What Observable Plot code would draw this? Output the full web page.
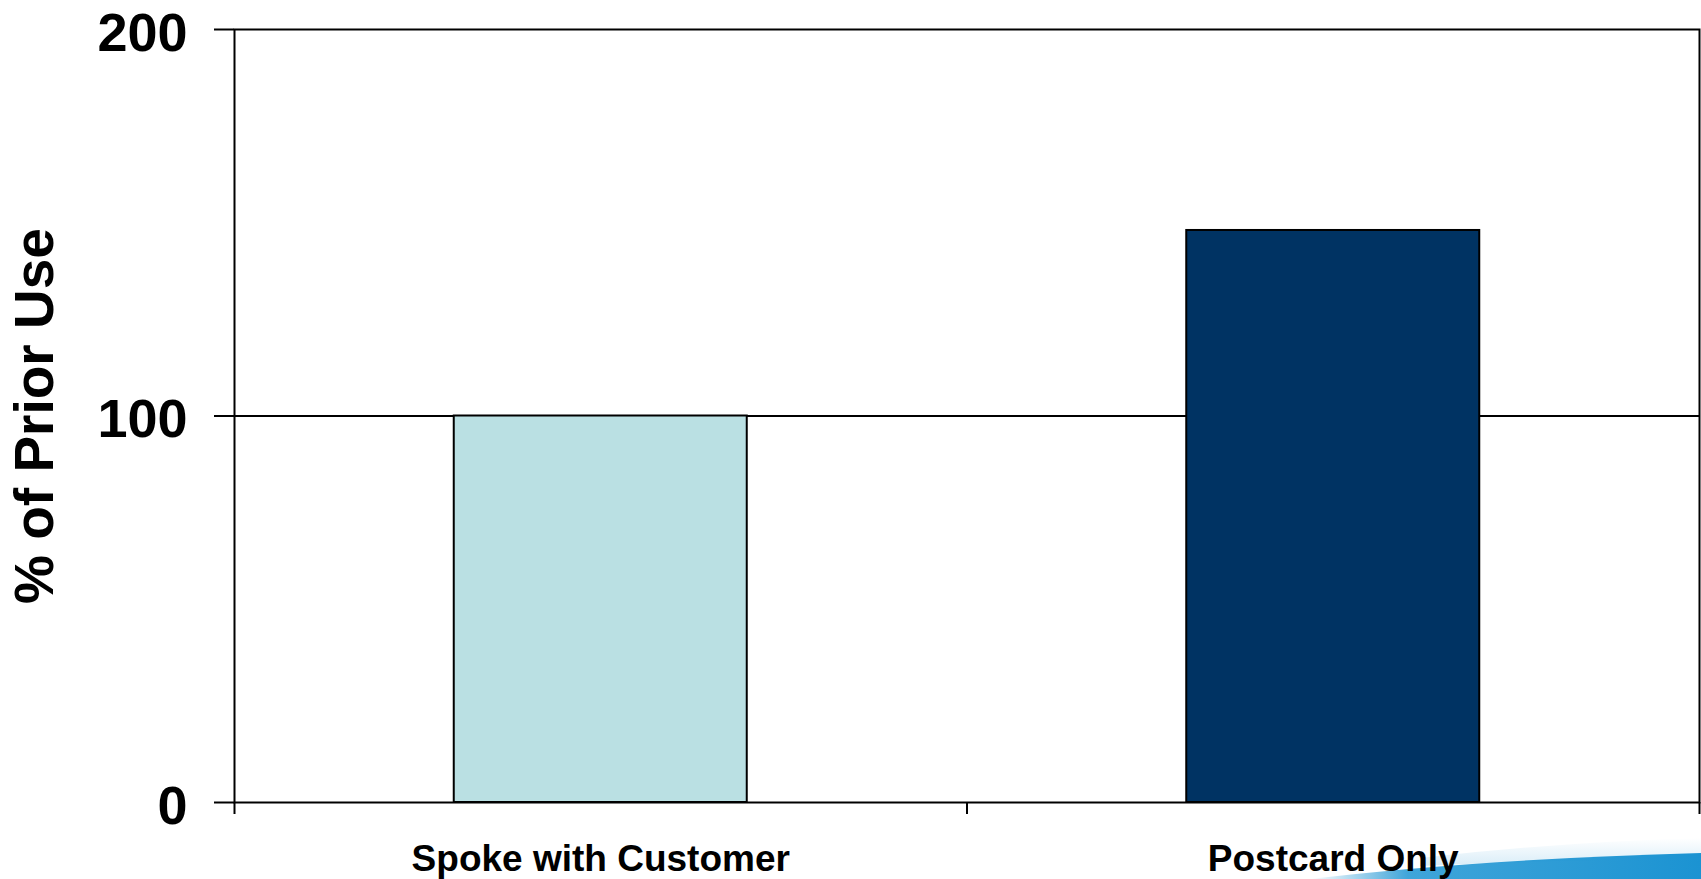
<!DOCTYPE html>
<html>
<head>
<meta charset="utf-8">
<script src="https://cdn.jsdelivr.net/npm/d3@7"></script>
<script src="https://cdn.jsdelivr.net/npm/@observablehq/plot@0.6"></script>
<style>
  html, body { margin: 0; padding: 0; background: #ffffff; }
  #wrap { position: relative; width: 1701px; height: 879px; overflow: hidden; }
  #swoosh { position: absolute; left: 0; top: 0; z-index: 0; }
  #chart { position: absolute; left: 0; top: 0; z-index: 1; }
</style>
</head>
<body>
<div id="wrap">
  <svg id="swoosh" width="1701" height="879" viewBox="0 0 1701 879">
    <defs>
      <linearGradient id="sw" x1="0" x2="1" y1="0" y2="0">
        <stop offset="0" stop-color="#1e95d3" stop-opacity="0"></stop>
        <stop offset="0.25" stop-color="#1e95d3" stop-opacity="0.85"></stop>
        <stop offset="1" stop-color="#1b93d2"></stop>
      </linearGradient>
      <linearGradient id="haze" x1="0" x2="0" y1="0" y2="1">
        <stop offset="0" stop-color="#cfe8f6" stop-opacity="0"></stop>
        <stop offset="1" stop-color="#cfe8f6" stop-opacity="0.8"></stop>
      </linearGradient>
    </defs>
    <path d="M1420,858 Q1560,842 1701,838 L1701,858 Q1560,860 1420,866 Z" fill="url(#haze)"></path>
    <path d="M1310,879 Q1480,859 1701,853 L1701,879 Z" fill="url(#sw)"></path>
  </svg>
  <div id="chart"></div>
</div>
<script>
// Share of prior use, by type of contact
const categories = ["Spoke with Customer", "Postcard Only"];
const values = [100, 148];
const fills = ["#bae0e3", "#003363"];

// Y axis ticks and the category boundaries on the x axis
const yTicks = [0, 100, 200];
const xBoundaries = [0, 1, 2];

const rows = categories.map((name, i) => ({name, i, value: values[i], fill: fills[i]}));

// Bars fill 40% of each category slot, centred within it
const half = 0.2;

const font = "'Liberation Sans', Arial, Helvetica, sans-serif";

const chart = Plot.plot({
  width: 1701,
  height: 879,
  marginLeft: 234,
  marginRight: 2,
  marginTop: 29,
  marginBottom: 77,
  style: {background: "transparent", fontFamily: font, color: "#000"},
  x: {type: "linear", domain: [0, categories.length], axis: null},
  y: {domain: [0, 200], axis: null},
  marks: [
    Plot.ruleY([100], {stroke: "#000", strokeWidth: 2}),
    Plot.rectY(rows, {
      x1: d => d.i + 0.5 - half,
      x2: d => d.i + 0.5 + half,
      y1: 0,
      y2: "value",
      fill: "fill",
      stroke: "#000",
      strokeWidth: 2
    }),
    Plot.frame({stroke: "#000", strokeWidth: 2}),
    // y tick marks
    Plot.axisY({
      ticks: yTicks,
      tickSize: 20,
      strokeWidth: 2,
      tickFormat: () => "",
      label: null
    }),
    // y tick labels, sitting a little below their tick
    Plot.axisY({
      ticks: yTicks,
      tickSize: 0,
      tickPadding: 47,
      fontSize: 54,
      fontWeight: "bold",
      fill: "#000",
      dy: 4,
      label: null
    }),
    Plot.text(["% of Prior Use"], {
      frameAnchor: "left",
      textAnchor: "middle",
      rotate: -90,
      dx: -199,
      fontSize: 55,
      fontWeight: "bold",
      fill: "#000"
    }),
    Plot.axisX({
      ticks: xBoundaries,
      tickSize: 12,
      strokeWidth: 2,
      tickFormat: () => "",
      label: null
    }),
    Plot.axisX({
      ticks: categories.map((_, i) => i + 0.5),
      tickSize: 0,
      tickPadding: 42,
      tickFormat: v => categories[Math.floor(v)],
      fontSize: 37,
      fontWeight: "bold",
      fill: "#000",
      label: null
    })
  ]
});

document.getElementById("chart").appendChild(chart);
</script>
</body>
</html>
